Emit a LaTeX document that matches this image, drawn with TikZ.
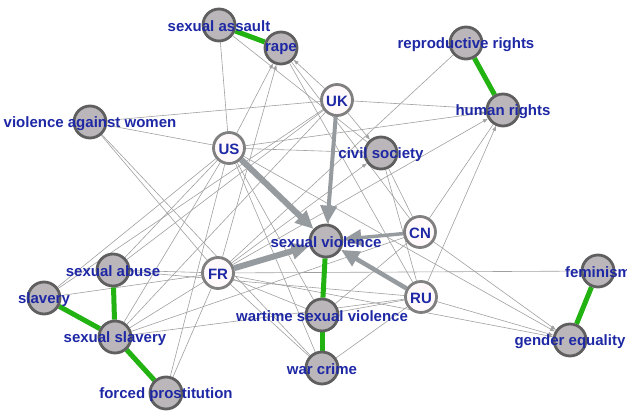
\documentclass[tikz,border=0pt]{standalone}
\usepackage{fontspec}
\setmainfont{Liberation Sans}
\usetikzlibrary{arrows.meta,backgrounds}
\definecolor{lblue}{RGB}{30,40,165}
\definecolor{topicfill}{RGB}{186,182,185}
\definecolor{topicline}{RGB}{95,95,95}
\definecolor{statefill}{RGB}{255,249,251}
\definecolor{stateline}{RGB}{128,128,128}
\definecolor{linkgreen}{RGB}{34,178,18}
\definecolor{heavy}{RGB}{150,155,160}
\definecolor{thinline}{RGB}{160,160,160}
\tikzset{
  topic/.style={circle,draw=topicline,fill=topicfill,line width=2.8pt,minimum size=32pt,inner sep=0pt},
  state/.style={circle,draw=stateline,fill=statefill,line width=2.8pt,minimum size=31pt,inner sep=0pt},
  name text/.style={text=lblue,font=\bfseries\fontsize{15}{15}\selectfont,inner sep=0pt,yshift=-1.5pt},
  green link/.style={linkgreen,line width=5pt},
  flow/.style={heavy,line width=#1,-{Triangle[length=18pt,width=16pt]}},
  link/.style={thinline,line width=0.6pt},
  tip link/.style={link,-{Triangle[length=5pt,width=3.5pt]}}
}
\begin{document}
\begin{tikzpicture}[x=1pt,y=-1pt]
\useasboundingbox (0,0) rectangle (627,411);
% topics
\foreach \n/\p in {sa/{219,25},rape/{281,48},vaw/{90,122},rr/{466,43},hr/{503,110},
  cs/{381,153},sv/{326,241},sab/{113,270},slav/{44,298},ss/{115,337},fp/{166,393},
  wsv/{322,315},wc/{322,368},fem/{598,271},ge/{570,340}}
  \node[topic] (\n) at (\p) {};
% states
\foreach \n/\p in {us/{229,148},uk/{337,100},fr/{218,273},cn/{420,232},ru/{421,297}}
  \node[state] (\n) at (\p) {};
\begin{pgfonlayer}{background}
% thin links
\foreach \a/\b in {us/sa,us/vaw,us/sab,us/slav,us/ss,us/fp,us/wsv,us/wc,us/cs,
  uk/vaw,uk/hr,uk/ss,uk/sab,uk/wsv,uk/slav,fr/sab,fr/slav,fr/ss,fr/fp,fr/wsv,
  fr/wc,fr/fem,fr/vaw,fr/rr,cn/cs,cn/hr,cn/rape,cn/ss,cn/wsv,ru/cs,ru/wc,ru/wsv,
  ru/ss,ru/sab,ru/rape,sa/cs,vaw/wc}
  \draw[link] (\a) -- (\b);
\foreach \a/\b in {us/rape,fr/rape,uk/rape,uk/cs,fr/cs,fr/hr,ru/hr,us/hr,
  cn/ge,ru/ge,fr/ge,us/ge}
  \draw[tip link] (\a) -- (\b);
% same-topic links
\foreach \a/\b in {sa/rape,rr/hr,sv/wsv,wsv/wc,sab/ss,slav/ss,ss/fp,fem/ge}
  \draw[green link] (\a) -- (\b);
% weighted flows
\draw[flow=6pt] (us) -- (sv);
\draw[flow=6pt] (fr) -- (sv);
\draw[flow=4pt] (uk) -- (sv);
\draw[flow=3.5pt] (cn) -- (sv);
\draw[flow=4.5pt] (ru) -- (sv);
\end{pgfonlayer}
% labels
\foreach \n/\t in {sa/sexual assault,rape/rape,vaw/violence against women,
  rr/reproductive rights,hr/human rights,cs/civil society,sv/sexual violence,
  sab/sexual abuse,slav/slavery,ss/sexual slavery,fp/forced prostitution,
  wsv/wartime sexual violence,wc/war crime,fem/feminism,ge/gender equality,
  us/US,uk/UK,fr/FR,cn/CN,ru/RU}
  \node[name text] (\n-t) at (\n) {\t};
\end{tikzpicture}
\end{document}
